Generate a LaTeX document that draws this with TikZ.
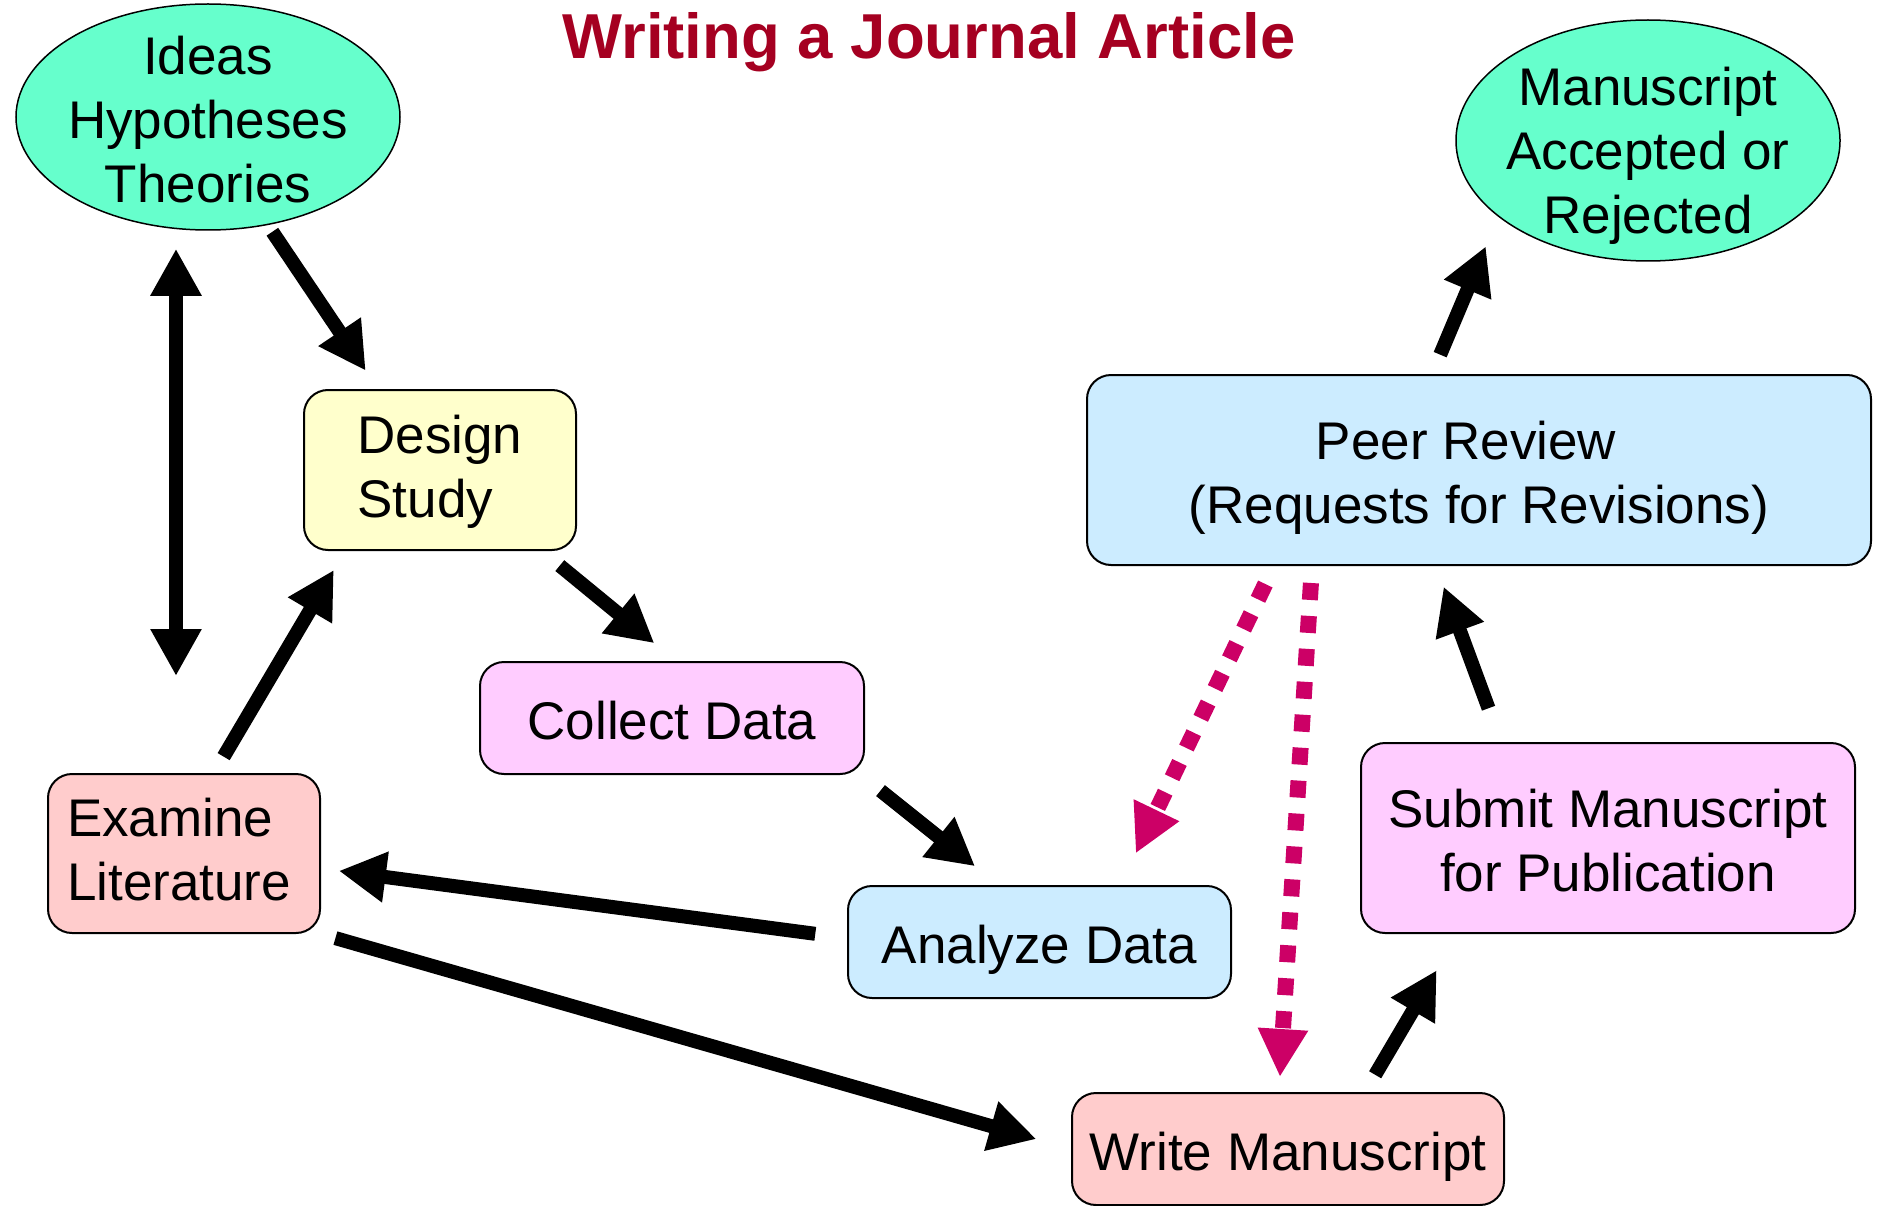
\documentclass[tikz,border=0pt]{standalone}
\usepackage{fontspec}
\setmainfont{Liberation Sans}
\usetikzlibrary{arrows.meta,shapes.geometric}
\definecolor{mint}{HTML}{66FFCC}
\definecolor{designcol}{HTML}{FFFFCC}
\definecolor{pinkcol}{HTML}{FFCCFF}
\definecolor{rosecol}{HTML}{FFCCCC}
\definecolor{bluecol}{HTML}{CCECFF}
\definecolor{titlecol}{HTML}{A50021}
\definecolor{revcol}{HTML}{CC0066}
\newcommand{\lnstrut}{\rule[-11pt]{0pt}{64pt}}
\newcommand{\lnstrutb}{\rule[-17pt]{0pt}{64pt}}
\begin{document}
\begin{tikzpicture}[x=1pt,y=-1pt,
  box/.style={draw=black, line width=2pt, rounded corners=24pt, inner sep=0pt, align=center, font=\fontsize{53}{64}\selectfont},
  oval/.style={ellipse, draw=black, line width=1.5pt, fill=mint, inner sep=0pt},
  txt/.style={align=center, font=\fontsize{53}{64}\selectfont, inner sep=0pt},
  arr/.style={line width=14pt, -{Triangle[length=47pt,width=48pt]}},
  darr/.style={line width=14pt, {Triangle[length=47pt,width=48pt]}-{Triangle[length=47pt,width=48pt]}},
  rev/.style={line width=16pt, draw=revcol, dash pattern=on 17pt off 16pt, -{Triangle[length=48pt,width=47pt]}}
]
\useasboundingbox[fill=white] (0,0) rectangle (1878,1206);

\node[anchor=base, text=titlecol, inner sep=0pt, font=\fontsize{63.5}{70}\selectfont\bfseries] (title) at (929,59) {Writing a Journal Article};

\node[oval, minimum width=384pt, minimum height=226pt] (ideas) at (208,117) {};
\node[txt] (ideastext) at (208,120) {Ideas\\Hypotheses\\Theories};
\node[oval, minimum width=384pt, minimum height=241pt] (accepted) at (1648,140.5) {};
\node[txt] (acceptedtext) at (1648,156) {Manuscript\\Accepted or\\Rejected};

\node[box, fill=designcol, minimum width=272pt, minimum height=160pt, align=left] (design) at (440,470) {\lnstrutb Design\\\lnstrutb Study};
\node[box, fill=pinkcol, minimum width=384pt, minimum height=112pt] (collect) at (672,718) {\lnstrut Collect Data};
\node[box, fill=rosecol, minimum width=272pt, minimum height=159pt, align=left] (examine) at (184,853.5) {\lnstrutb Examine\\\lnstrutb Literature\hspace*{10pt}};
\node[box, fill=bluecol, minimum width=383pt, minimum height=112pt] (analyze) at (1039.5,942) {\lnstrut Analyze Data};
\node[box, fill=rosecol, minimum width=432pt, minimum height=112pt] (write) at (1288,1149) {\lnstrut Write Manuscript};
\node[box, fill=bluecol, minimum width=784pt, minimum height=190pt] (peer) at (1479,470) {\lnstrut Peer Review\hspace*{26pt}\\\lnstrut(Requests for Revisions)};
\node[box, fill=pinkcol, minimum width=494pt, minimum height=190pt] (submit) at (1608,838) {\lnstrut Submit Manuscript\\\lnstrut for Publication};

\draw[arr, shorten <=8pt, shorten >=22pt] (ideas.-61.4) -- ([xshift=-62pt]design.north);
\draw[darr, shorten <=18pt, shorten >=97pt] ([xshift=-32pt]ideas.south) -- ([xshift=-8pt]examine.north);
\draw[arr, shorten <=19pt, shorten >=22pt] ([xshift=30pt]examine.north) -- ([xshift=-95pt]design.south);
\draw[arr, shorten <=23pt, shorten >=28pt] ([xshift=-35pt]design.south east) -- ([xshift=4pt]collect.north);
\draw[arr, shorten <=25pt, shorten >=30pt] ([xshift=-4pt]collect.south east) -- ([xshift=-41pt]analyze.north);
\draw[arr, shorten <=32pt, shorten >=18pt] ([yshift=4pt]analyze.west) -- ([yshift=-15pt]examine.east);
\draw[arr, shorten <=15pt, shorten >=36pt] (examine.south east) -- (write.west);
\draw[arr, shorten <=20pt, shorten >=42pt] ([xshift=77pt]write.north) -- ([xshift=-150pt]submit.south);
\draw[arr, shorten <=36pt, shorten >=22pt] ([xshift=-107pt]submit.north) -- ([xshift=-43pt]peer.south);
\draw[arr, shorten <=21pt, shorten >=32pt] ([xshift=-47pt]peer.north) -- (accepted.207.8);

\draw[rev, shorten <=20pt, shorten >=35pt] ([xshift=-205pt]peer.south) -- ([xshift=81pt]analyze.north);
\draw[rev, shorten <=17pt, shorten >=15pt] ([xshift=-167pt]peer.south) -- ([xshift=-9pt]write.north);
\end{tikzpicture}
\end{document}
